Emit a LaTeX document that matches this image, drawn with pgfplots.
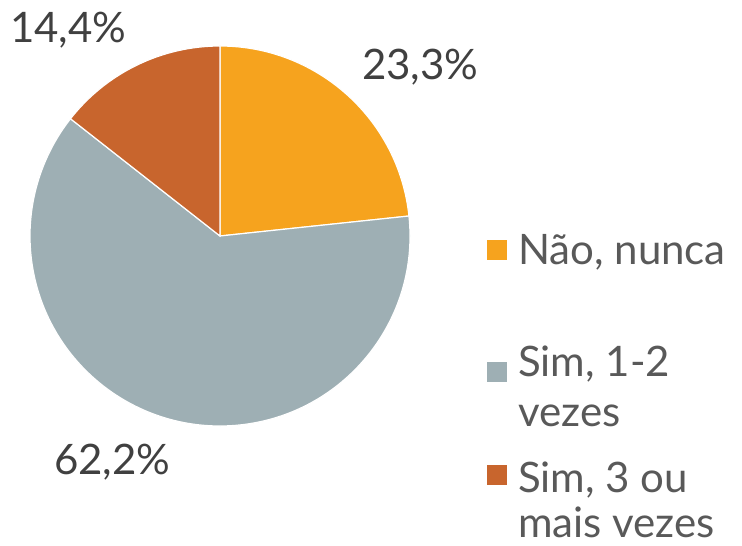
\documentclass[border=0pt]{standalone}
\usepackage{fontspec}
\setmainfont{Lato}
\usepackage{pgfplots}
\usepackage{pgfplotstable}
\pgfplotsset{compat=1.18}
\definecolor{cA}{HTML}{F6A31E}
\definecolor{cB}{HTML}{9EAFB4}
\definecolor{cC}{HTML}{C8652D}
\definecolor{lab}{HTML}{404040}
\definecolor{leg}{HTML}{595959}
\pgfplotstableread{
label value
A 23.3
B 62.2
C 14.4
}\piedata
\pgfplotstablegetelem{0}{value}\of\piedata \let\vA\pgfplotsretval
\pgfplotstablegetelem{1}{value}\of\piedata \let\vB\pgfplotsretval
\pgfplotstablegetelem{2}{value}\of\piedata \let\vC\pgfplotsretval
\pgfmathsetmacro{\tot}{\vA+\vB+\vC}
\pgfmathsetmacro{\aS}{90}
\pgfmathsetmacro{\aA}{90-\vA/\tot*360}
\pgfmathsetmacro{\aB}{\aA-\vB/\tot*360}
\pgfmathsetmacro{\aC}{\aB-\vC/\tot*360}
\newcommand{\bigf}{\fontsize{42bp}{44bp}\selectfont}
\begin{document}
\begin{tikzpicture}
\useasboundingbox (0,0) rectangle (742bp,546bp);
\begin{axis}[at={(0,0)},anchor=south west,width=742bp,height=546bp,scale only axis,
  xmin=0,xmax=742,ymin=0,ymax=546,hide axis,clip=false]
\fill[cA,draw=white,line width=1.2bp] (axis cs:220,310) -- ++(\aS:190bp) arc[start angle=\aS,end angle=\aA,radius=190bp] -- cycle;
\fill[cB,draw=white,line width=1.2bp] (axis cs:220,310) -- ++(\aA:190bp) arc[start angle=\aA,end angle=\aB,radius=190bp] -- cycle;
\fill[cC,draw=white,line width=1.2bp] (axis cs:220,310) -- ++(\aB:190bp) arc[start angle=\aB,end angle=\aC,radius=190bp] -- cycle;
% data labels
\node[anchor=base west,inner sep=0,text=lab,font=\bigf] at (axis cs:362,466) {23,3\%};
\node[anchor=base west,inner sep=0,text=lab,font=\bigf] at (axis cs:10,503) {14,4\%};
\node[anchor=base west,inner sep=0,text=lab,font=\bigf] at (axis cs:54,71) {62,2\%};
% legend
\fill[cA] (axis cs:487,286) rectangle (axis cs:507,306);
\fill[cB] (axis cs:487,164) rectangle (axis cs:507,184);
\fill[cC] (axis cs:487,61) rectangle (axis cs:507,81);
\node[anchor=base west,inner sep=0,text=leg,font=\bigf] at (axis cs:518,281) {Não, nunca};
\node[anchor=base west,inner sep=0,text=leg,font=\bigf] at (axis cs:518,169) {Sim, 1-2};
\node[anchor=base west,inner sep=0,text=leg,font=\bigf] at (axis cs:518,119) {vezes};
\node[anchor=base west,inner sep=0,text=leg,font=\bigf] at (axis cs:518,53) {Sim, 3 ou};
\node[anchor=base west,inner sep=0,text=leg,font=\bigf] at (axis cs:518,9) {mais vezes};
\end{axis}
\end{tikzpicture}
\end{document}
